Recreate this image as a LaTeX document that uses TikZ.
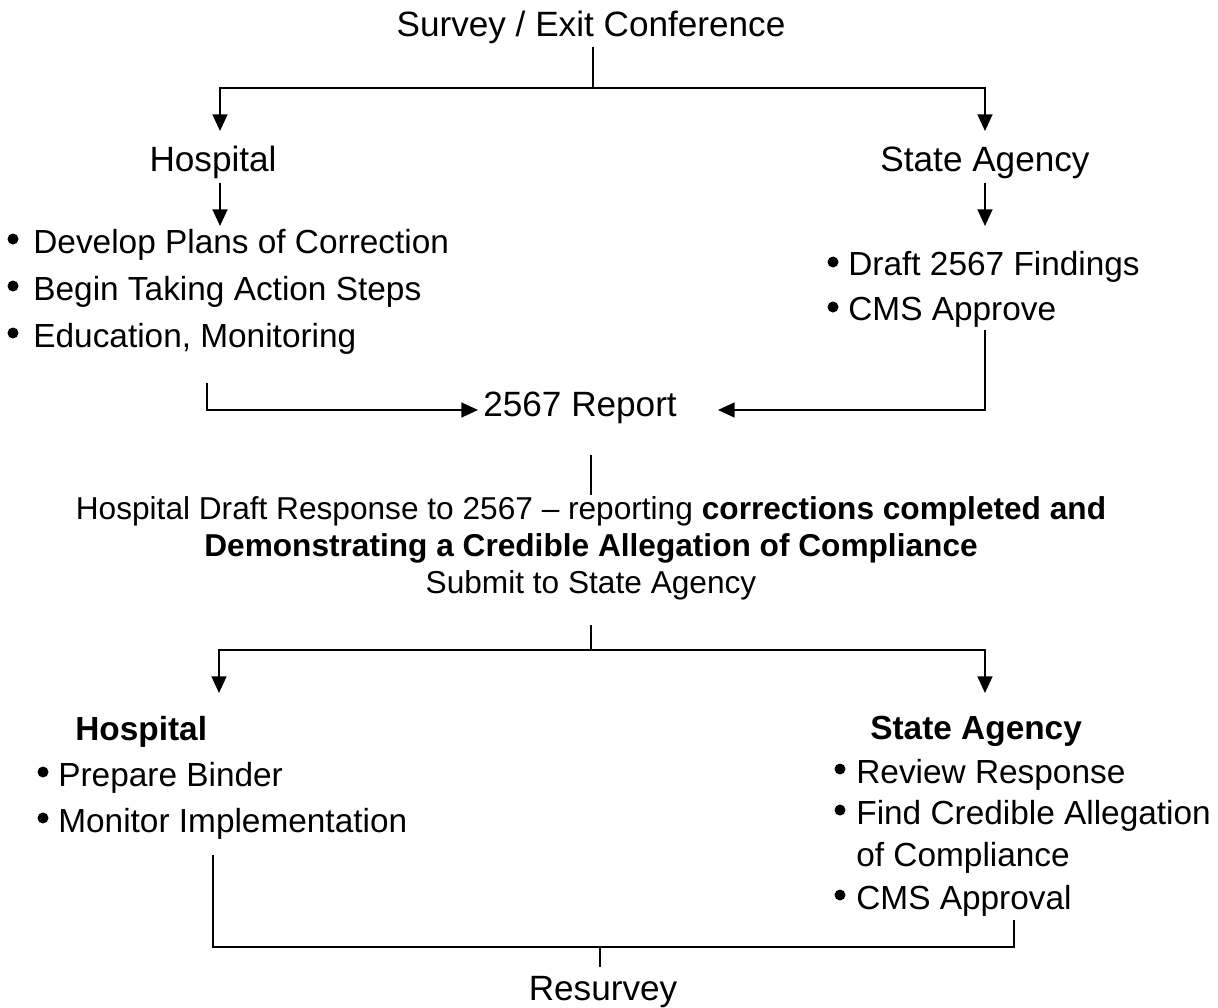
\documentclass[tikz,border=0pt]{standalone}
\usepackage{fontspec}
\setmainfont{Liberation Sans}
\usetikzlibrary{arrows.meta}

\begin{document}
\begin{tikzpicture}[scale=0.2,
  big/.style={font=\fontsize{20}{24}\selectfont, anchor=base},
  item/.style={font=\fontsize{19}{23}\selectfont, anchor=base west},
  head/.style={font=\fontsize{19}{23}\selectfont\bfseries, anchor=base west},
  resp/.style={font=\fontsize{18}{21}\selectfont, anchor=base},
  link/.style={line width=1.1pt},
  arr/.style={link, -{Triangle[length=9.5pt,width=8.5pt]}}]
\tikzstyle{every node}+=[inner sep=0pt]
\useasboundingbox (0,0) rectangle (121.8,-100.7);
% survey and the two sides
\node[big] (survey) at (59.1,-3.6) {Survey / Exit Conference};
\node[big] (hospA) at (21.3,-17.1) {Hospital};
\node[big] (stateA) at (98.5,-17.1) {State Agency};
\coordinate (t0) at (59.3,-4.7);
\coordinate (fork1) at (59.3,-8.8);
\coordinate (hIn) at (22,-13.1);
\coordinate (sIn) at (98.5,-13.1);
\draw [link] (t0) -- (fork1);
\draw [arr] (fork1) -| (hIn);
\draw [arr] (fork1) -| (sIn);
\coordinate (h0) at (22,-18.3);
\coordinate (h1) at (22,-22.6);
\coordinate (s0) at (98.5,-18.3);
\coordinate (s1) at (98.5,-22.6);
\draw [arr] (h0) -- (h1);
\draw [arr] (s0) -- (s1);
% hospital steps
\node[item] (dev) at (3.3,-25.3) {Develop Plans of Correction};
\fill (1.3,-23.9) circle (0.55);
\node[item] (begin) at (3.3,-30.0) {Begin Taking Action Steps};
\fill (1.3,-28.6) circle (0.55);
\node[item] (edu) at (3.3,-34.7) {Education, Monitoring};
\fill (1.3,-33.3) circle (0.55);
% state agency steps
\node[item] (draft) at (84.8,-27.5) {Draft 2567 Findings};
\fill (83.3,-26.2) circle (0.55);
\node[item] (cmsA) at (84.8,-32.0) {CMS Approve};
\fill (83.3,-30.7) circle (0.55);
% report
\node[big, anchor=base west] (report) at (48.3,-41.6) {2567 Report};
\coordinate (l0) at (20.7,-38.3);
\coordinate (repL) at (47.8,-41.0);
\coordinate (r0) at (98.5,-33.0);
\coordinate (repR) at (71.8,-41.0);
\draw [arr] (l0) |- (repL);
\draw [arr] (r0) |- (repR);
\coordinate (m0) at (59.1,-45.5);
\coordinate (m1) at (59.1,-49.5);
\draw [link] (m0) -- (m1);
% response
\node[resp] (resp1) at (59.1,-51.9) {Hospital Draft Response to 2567 – reporting \textbf{corrections completed and}};
\node[resp] (resp2) at (59.1,-55.6) {\textbf{Demonstrating a Credible Allegation of Compliance}};
\node[resp] (resp3) at (59.1,-59.3) {Submit to State Agency};
\coordinate (n0) at (59.1,-62.5);
\coordinate (fork2) at (59.1,-65.0);
\coordinate (hIn2) at (21.9,-69.3);
\coordinate (sIn2) at (98.5,-69.3);
\draw [link] (n0) -- (fork2);
\draw [arr] (fork2) -| (hIn2);
\draw [arr] (fork2) -| (sIn2);
% second round
\node[head] (hospB) at (7.5,-74.0) {Hospital};
\node[head] (stateB) at (87.0,-73.9) {State Agency};
\node[item] (prep) at (5.8,-78.6) {Prepare Binder};
\fill (4.3,-77.2) circle (0.55);
\node[item] (monitor) at (5.8,-83.2) {Monitor Implementation};
\fill (4.3,-81.8) circle (0.55);
\node[item] (review) at (85.6,-78.3) {Review Response};
\fill (84.0,-76.9) circle (0.55);
\node[item] (find) at (85.6,-82.4) {Find Credible Allegation};
\fill (84.0,-81.0) circle (0.55);
\node[item] (ofc) at (85.6,-86.6) {of Compliance};
\node[item] (cmsB) at (85.6,-90.9) {CMS Approval};
\fill (84.0,-89.5) circle (0.55);
% resurvey
\node[big] (resurvey) at (60.3,-100.0) {Resurvey};
\coordinate (b0) at (21.3,-85.5);
\coordinate (b1) at (101.4,-92.0);
\coordinate (b2) at (60.0,-94.7);
\coordinate (b3) at (60.0,-96.7);
\draw [link] (b0) |- (b2) -| (b1);
\draw [link] (b2) -- (b3);
\end{tikzpicture}
\end{document}
